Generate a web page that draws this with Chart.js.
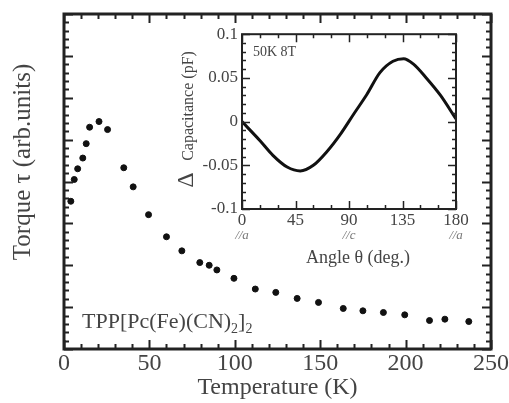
<!DOCTYPE html>
<html>
<head>
<meta charset="utf-8">
<script src="https://cdn.jsdelivr.net/npm/chart.js@4.4.1/dist/chart.umd.min.js"></script>
<style>
  html, body { margin: 0; padding: 0; background: #fff; }
  #wrap { position: relative; width: 509px; height: 403px; }
  #wrap canvas { position: absolute; }
  #main { left: 0; top: 0; }
  #inset { left: 170px; top: 20px; }
</style>
</head>
<body>
<div id="wrap">
  <canvas id="main" width="509" height="403"></canvas>
  <canvas id="inset" width="300" height="260"></canvas>
</div>
<script>
Chart.defaults.animation = false;
Chart.defaults.font.family = '"Liberation Serif", "DejaVu Serif", serif';
Chart.defaults.color = '#444';

// main panel: torque vs temperature (arbitrary units)
const temps = [4, 6, 8, 11, 13, 15, 20.5, 25.5, 35, 40.5, 49.5, 60, 69, 79.5, 85, 89.5, 99.5, 112, 124, 136.5, 149, 163.5, 175, 187, 199.5, 214, 223, 237];
const torque = [44.1, 50.6, 53.8, 57.0, 61.3, 66.2, 67.9, 65.5, 54.1, 48.4, 40.1, 33.5, 29.3, 25.8, 25.0, 23.6, 21.1, 17.9, 16.9, 15.1, 13.9, 12.1, 11.4, 10.9, 10.2, 8.5, 8.9, 8.2];
const tempTicks = [0, 50, 100, 150, 200, 250];

// inset: capacitance change vs field angle (50 K, 8 T)
const angles = [0, 15, 26, 38, 49, 60, 71, 83, 94, 105, 116, 127, 136, 144, 155, 167, 180];
const capacitance = [0, -0.0216, -0.0386, -0.052, -0.0565, -0.05, -0.035, -0.014, 0.0087, 0.031, 0.056, 0.069, 0.072, 0.066, 0.05, 0.03, 0.003];
const angleTicks = [0, 45, 90, 135, 180];
const angleDirs = ['//a', '//c', '//a'];
const capTicks = [-0.1, -0.05, 0, 0.05, 0.1];

// box with inward ticks on all four sides
const frameTicks = {
  id: 'frameTicks',
  afterDraw(chart, args, o) {
    const { ctx, chartArea: a, scales: { x, y } } = chart;
    const isMajor = (v, step) => Math.abs(v / step - Math.round(v / step)) < 1e-6;
    ctx.save();
    ctx.strokeStyle = o.color;
    ctx.lineWidth = o.tickWidth;
    ctx.beginPath();
    for (let v = x.min; v <= x.max + 1e-9; v += o.xMinor) {
      const px = Math.round(x.getPixelForValue(v)) + 0.5;
      const len = isMajor(v, o.xMajor) ? o.majorLen : o.minorLen;
      ctx.moveTo(px, a.bottom); ctx.lineTo(px, a.bottom - len);
      ctx.moveTo(px, a.top); ctx.lineTo(px, a.top + len);
    }
    for (let v = y.min; v <= y.max + 1e-9; v += o.yMinor) {
      const py = Math.round(y.getPixelForValue(v)) + 0.5;
      const len = isMajor(v - y.min, o.yMajor) ? o.majorLen : o.minorLen;
      ctx.moveTo(a.left, py); ctx.lineTo(a.left + len, py);
      ctx.moveTo(a.right, py); ctx.lineTo(a.right - len, py);
    }
    ctx.stroke();
    ctx.lineWidth = o.frameWidth;
    ctx.strokeRect(a.left, a.top, a.right - a.left, a.bottom - a.top);
    ctx.restore();
  }
};

function subText(ctx, parts, x, y) {
  // parts: [text, size, dy]
  let cx = x;
  parts.forEach(([t, size, dy]) => {
    ctx.font = size + 'px "Liberation Serif", serif';
    ctx.fillText(t, cx, y + dy);
    cx += ctx.measureText(t).width;
  });
}

const mainLabels = {
  id: 'mainLabels',
  afterDraw(chart) {
    const { ctx } = chart;
    ctx.save();
    ctx.fillStyle = '#444';
    ctx.textAlign = 'center';
    ctx.textBaseline = 'middle';
    ctx.translate(23, 162);
    ctx.rotate(-Math.PI / 2);
    ctx.font = '25px "Liberation Serif", serif';
    ctx.fillText('Torque \u03c4 (arb.units)', 0, 0);
    ctx.restore();

    ctx.save();
    ctx.fillStyle = '#444';
    ctx.textAlign = 'left';
    ctx.textBaseline = 'alphabetic';
    subText(ctx, [['TPP[Pc(Fe)(CN)', 22, 0], ['2', 14, 5], [']', 22, 0], ['2', 14, 5]], 82, 328);
    ctx.restore();
  }
};

const insetLabels = {
  id: 'insetLabels',
  afterDraw(chart) {
    const { ctx, scales: { x } } = chart;
    ctx.save();
    ctx.fillStyle = '#444';
    ctx.textAlign = 'center';
    ctx.textBaseline = 'middle';
    ctx.save();
    ctx.translate(19, 86);
    ctx.rotate(-Math.PI / 2);
    ctx.font = '16px "Liberation Serif", serif';
    ctx.fillText('Capacitance (pF)', 0, 0);
    ctx.restore();
    ctx.save();
    ctx.translate(17, 160);
    ctx.rotate(-Math.PI / 2);
    ctx.font = '24px "Liberation Serif", serif';
    ctx.fillText('\u0394', 0, 0);
    ctx.restore();

    ctx.font = '18px "Liberation Serif", serif';
    ctx.fillText('Angle \u03b8 (deg.)', 188, 238);

    ctx.textAlign = 'left';
    ctx.font = '14px "Liberation Serif", serif';
    ctx.fillText('50K 8T', 83, 32);

    ctx.textAlign = 'center';
    ctx.fillStyle = '#777';
    ctx.font = 'italic 13px "Liberation Serif", serif';
    [0, 90, 180].forEach((v, i) => {
      ctx.fillText(angleDirs[i], x.getPixelForValue(v), 216);
    });
    ctx.restore();
  }
};

new Chart(document.getElementById('main'), {
  type: 'scatter',
  data: {
    datasets: [{
      data: temps.map((t, i) => ({ x: t, y: torque[i] })),
      backgroundColor: '#111',
      borderColor: '#111',
      pointRadius: 3,
      pointHoverRadius: 3
    }]
  },
  options: {
    responsive: false,
    animation: false,
    layout: { padding: { top: 14, right: 17, left: 0, bottom: 0 } },
    plugins: {
      legend: { display: false },
      tooltip: { enabled: false },
      frameTicks: { color: '#222', tickWidth: 2, frameWidth: 3, majorLen: 9, minorLen: 5, xMinor: 10, xMajor: 50, yMinor: 2.5, yMajor: 12.5 }
    },
    scales: {
      x: {
        type: 'linear',
        min: 0, max: 250,
        grid: { display: false, drawTicks: false },
        border: { display: false },
        afterBuildTicks: s => { s.ticks = tempTicks.map(v => ({ value: v })); },
        ticks: { font: { size: 24 }, padding: 0, maxRotation: 0, color: '#444' },
        title: { display: true, text: 'Temperature (K)', font: { size: 24 }, color: '#444', padding: { top: 0, bottom: 1 } },
        afterFit: s => { s.height = 54; }
      },
      y: {
        min: 0, max: 100,
        grid: { display: false, drawTicks: false },
        border: { display: false },
        ticks: { display: false },
        afterFit: s => { s.width = 64; }
      }
    }
  },
  plugins: [frameTicks, mainLabels]
});

new Chart(document.getElementById('inset'), {
  type: 'line',
  data: {
    datasets: [{
      data: angles.map((a, i) => ({ x: a, y: capacitance[i] })),
      borderColor: '#111',
      borderWidth: 3,
      pointRadius: 0,
      tension: 0.4,
      cubicInterpolationMode: 'monotone',
      fill: false
    }]
  },
  options: {
    responsive: false,
    animation: false,
    layout: { padding: { top: 13, right: 14, left: 0, bottom: 0 } },
    plugins: {
      legend: { display: false },
      tooltip: { enabled: false },
      frameTicks: { color: '#222', tickWidth: 1.5, frameWidth: 2, majorLen: 8, minorLen: 4, xMinor: 15, xMajor: 45, yMinor: 0.01, yMajor: 0.05 }
    },
    scales: {
      x: {
        type: 'linear',
        min: 0, max: 180,
        grid: { display: false, drawTicks: false },
        border: { display: false },
        afterBuildTicks: s => { s.ticks = angleTicks.map(v => ({ value: v })); },
        ticks: { font: { size: 17 }, padding: 1, maxRotation: 0, color: '#444' },
        afterFit: s => { s.height = 71; }
      },
      y: {
        min: -0.1, max: 0.1,
        grid: { display: false, drawTicks: false },
        border: { display: false },
        afterBuildTicks: s => { s.ticks = capTicks.map(v => ({ value: v })); },
        ticks: { font: { size: 17 }, padding: 4, color: '#444', callback: v => String(+v.toFixed(2)) },
        afterFit: s => { s.width = 72; }
      }
    }
  },
  plugins: [frameTicks, insetLabels]
});
</script>
</body>
</html>
